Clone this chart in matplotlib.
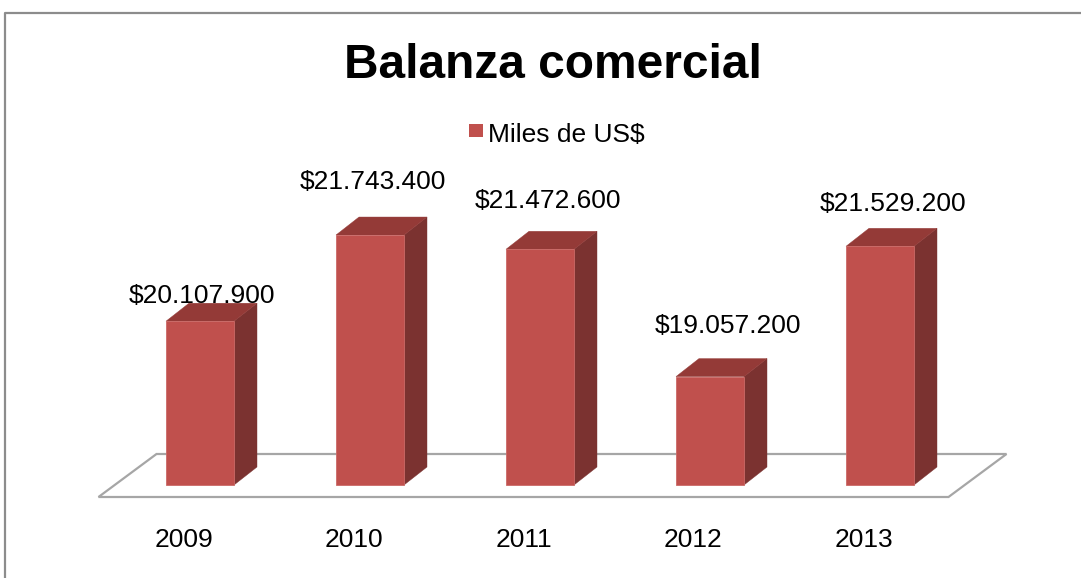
import matplotlib.pyplot as plt
from matplotlib.patches import Polygon, Rectangle
from matplotlib.lines import Line2D

# Datos de la balanza comercial (miles de US$)
years = ['2009', '2010', '2011', '2012', '2013']
values = [20107900, 21743400, 21472600, 19057200, 21529200]
labels = ['$20.107.900', '$21.743.400', '$21.472.600', '$19.057.200', '$21.529.200']
series_name = 'Miles de US$'
title = 'Balanza comercial'

# Desplazamiento de las etiquetas respecto a la esquina superior del frente (px)
label_dx = [2, 2.5, 8, 18, 13]
label_dy = [18, 46, 41, 44, 35]

W, H = 1081, 578
FONT = 'Liberation Sans'
FRONT = '#C0504D'
SIDE = '#7B3230'
TOP = '#943A37'

# Escala de la grafica (pixeles)
step_px = 170.0
x0_px = 200.0           # centro del primer frente
base_px = 485.0         # base del frente de las barras
k = 5.27e-5             # pixeles por unidad
v0 = 17000000           # minimo del eje de valores

fig = plt.figure(figsize=(W / 100, H / 100), dpi=100)
ax = fig.add_axes([0, 0, 1, 1])
ax.set_xlim(-x0_px / step_px, (W - x0_px) / step_px)
ax.set_ylim(v0 - (H - base_px) / k, v0 + base_px / k)
ax.axis('off')

def dx(px):
    return px / step_px

def dy(px):
    return px / k

# Piso en perspectiva
n = len(values)
floor = [
    (-0.5 + dx(-16.5), v0 - dy(12)),
    (n - 0.5 + dx(-16.5), v0 - dy(12)),
    (n - 0.5 + dx(41.5), v0 + dy(31)),
    (-0.5 + dx(41.5), v0 + dy(31)),
]
ax.add_patch(Polygon(floor, closed=True, facecolor='white', edgecolor='#A6A6A6', lw=1.6, zorder=1))

# Barras 3D
width = 68 / step_px
ddx, ddy = dx(23), dy(18)
xs = list(range(n))
ax.bar(xs, [v - v0 for v in values], bottom=v0, width=width, color=FRONT,
       edgecolor='#CB6A67', linewidth=0.6, zorder=3)
for i, v in enumerate(values):
    xl, xr = i - width / 2, i + width / 2
    side = [(xr, v0), (xr + ddx, v0 + ddy), (xr + ddx, v + ddy), (xr, v)]
    top = [(xl, v), (xl + ddx, v + ddy), (xr + ddx, v + ddy), (xr, v)]
    ax.add_patch(Polygon(side, closed=True, facecolor=SIDE, edgecolor=SIDE, lw=0.3, zorder=2))
    ax.add_patch(Polygon(top, closed=True, facecolor=TOP, edgecolor=TOP, lw=0.3, zorder=2))

    # Etiquetas de datos
    ax.annotate(labels[i], xy=(i, v), xytext=(label_dx[i] * 0.72, label_dy[i] * 0.72),
                textcoords='offset points', ha='center', va='baseline',
                fontsize=19, family=FONT, color='black', zorder=5)

    # Etiquetas del eje de categorias
    ax.text(i + dx(-16.5), v0 - dy(62), years[i], ha='center', va='baseline',
            fontsize=19, family=FONT, color='black')

# Titulo
fig.text(552.5 / W, 1 - 78 / H, title, ha='center', va='baseline',
         fontsize=34.5, fontweight='bold', family=FONT)

# Leyenda
fig.patches.append(Rectangle((469 / W, 1 - 137 / H), 14 / W, 13 / H,
                             transform=fig.transFigure, facecolor=FRONT, edgecolor='none'))
fig.text(488 / W, 1 - 141.5 / H, series_name, ha='left', va='baseline',
         fontsize=19, family=FONT)

# Borde del area del grafico
fig.lines.append(Line2D([4.5 / W, 4.5 / W, 1.0], [0.0, 1 - 13 / H, 1 - 13 / H],
                        transform=fig.transFigure, color='#8C8C8C', lw=1.6))

plt.savefig('out.png', dpi=100)
